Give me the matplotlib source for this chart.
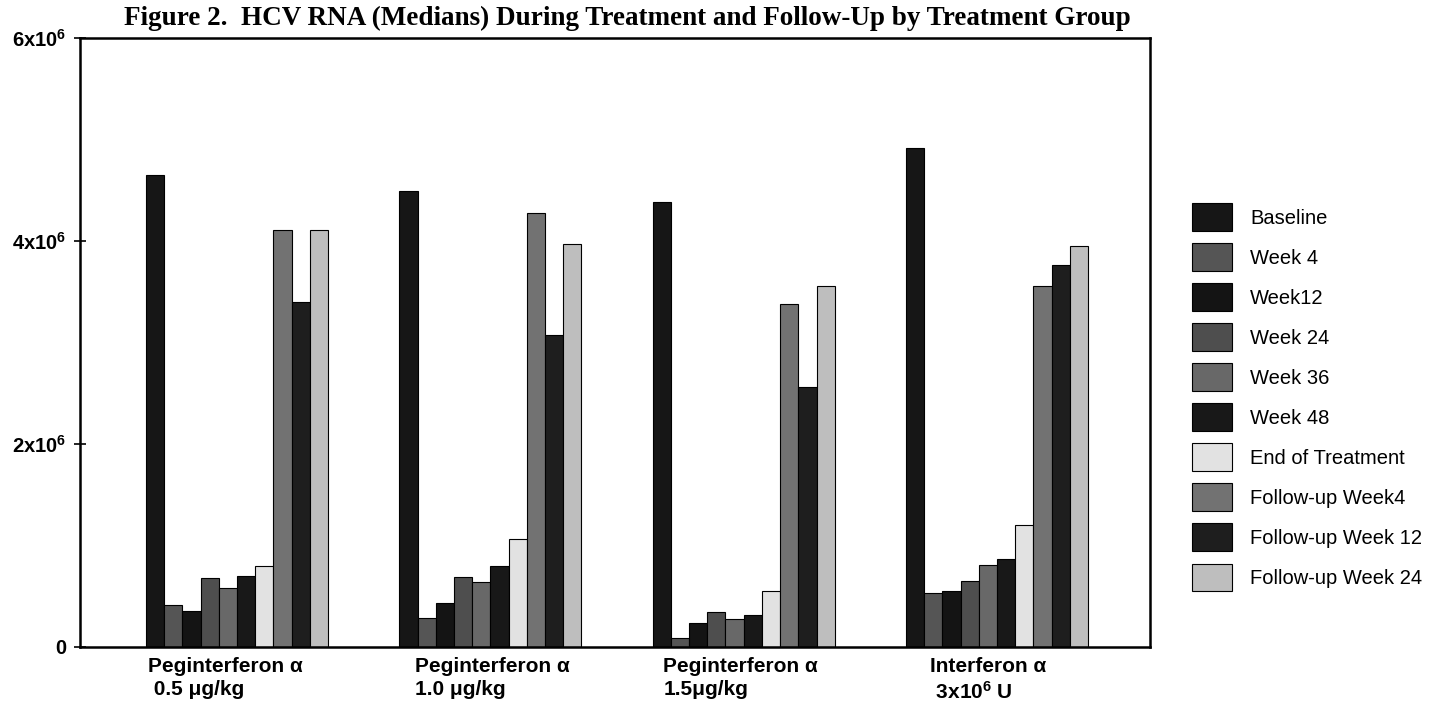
import matplotlib
matplotlib.use("Agg")
import matplotlib.pyplot as plt
import numpy as np

# HCV RNA medians (x10^6) per treatment group
groups = ["Peginterferon \u03b1\n 0.5 \u03bcg/kg",
          "Peginterferon \u03b1\n1.0 \u03bcg/kg",
          "Peginterferon \u03b1\n1.5\u03bcg/kg",
          "Interferon \u03b1\n 3x10$^{6}$ U"]

series_names = ["Baseline", "Week 4", "Week12", "Week 24", "Week 36",
                "Week 48", "End of Treatment", "Follow-up Week4",
                "Follow-up Week 12", "Follow-up Week 24"]

baseline = [4.65, 4.49, 4.38, 4.92]
week4 = [0.41, 0.29, 0.09, 0.53]
week12 = [0.35, 0.43, 0.24, 0.55]
week24 = [0.68, 0.69, 0.34, 0.65]
week36 = [0.58, 0.64, 0.28, 0.81]
week48 = [0.70, 0.80, 0.32, 0.87]
end_of_treatment = [0.80, 1.06, 0.55, 1.20]
followup_week4 = [4.11, 4.28, 3.38, 3.56]
followup_week12 = [3.40, 3.07, 2.56, 3.76]
followup_week24 = [4.11, 3.97, 3.56, 3.95]

series = [baseline, week4, week12, week24, week36, week48,
          end_of_treatment, followup_week4, followup_week12, followup_week24]

colors = ["#161616", "#555555", "#141414", "#4e4e4e", "#686868",
          "#181818", "#e2e2e2", "#727272", "#1e1e1e", "#bebebe"]

plt.rcParams["mathtext.default"] = "regular"

fig = plt.figure(figsize=(14.42, 7.02), dpi=100)
ax = fig.add_axes([80 / 1442, 55 / 702, 1070 / 1442, 609 / 702])

width = 0.0719
x = np.arange(len(groups))
for i, (name, vals) in enumerate(zip(series_names, series)):
    ax.bar(x - 5 * width + i * width, np.array(vals) * 1e6, width,
           align="edge", color=colors[i], edgecolor="black",
           linewidth=0.8, label=name)

ax.set_xlim(-0.62, 3.604)
ax.set_ylim(0, 6e6)

ax.set_yticks([0, 2e6, 4e6, 6e6])
ax.set_yticklabels(["0", "2x10$^{6}$", "4x10$^{6}$", "6x10$^{6}$"],
                   fontsize=14.5, fontweight="bold", family="Liberation Sans")
ax.tick_params(axis="y", direction="inout", length=8, width=1.2, pad=6)
ax.set_xticks([])

for sp in ax.spines.values():
    sp.set_linewidth(1.8)

# category labels, left aligned under each group
label_offsets = [-0.351, -0.297, -0.318, -0.264]
for xi, lab, off in zip(x, groups, label_offsets):
    ax.text(xi + off, -0.016, lab, transform=ax.get_xaxis_transform(),
            ha="left", va="top", fontsize=15, fontweight="bold",
            family="Liberation Sans", linespacing=1.27)

fig.text(627 / 1442, 1 - 18 / 702,
         "Figure 2.  HCV RNA (Medians) During Treatment and Follow-Up by Treatment Group",
         ha="center", va="center", fontsize=19.5, fontweight="bold",
         family="Liberation Serif")

ax.legend(loc="upper left", bbox_to_anchor=(1192 / 1442, 1 - 203 / 702),
          bbox_transform=fig.transFigure, frameon=False,
          prop={"family": "Liberation Sans", "size": 14.5},
          borderpad=0, borderaxespad=0, handlelength=1.99,
          handleheight=1.76, labelspacing=0.6, handletextpad=0.9)

fig.savefig("out.png", dpi=100)
